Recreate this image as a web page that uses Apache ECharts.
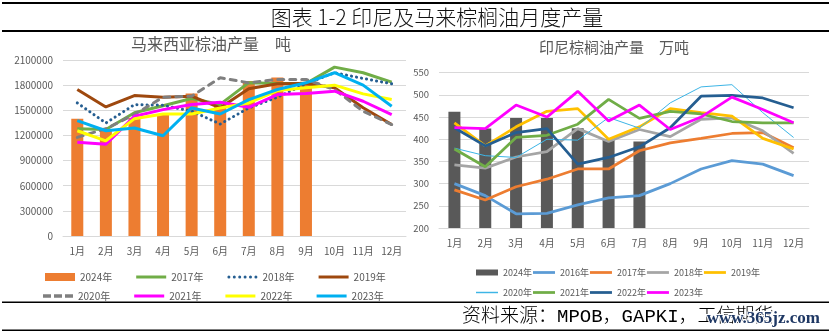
<!DOCTYPE html>
<html>
<head>
<meta charset="utf-8">
<script src="https://cdn.jsdelivr.net/npm/echarts@6/dist/echarts.min.js"></script>
<style>
  html, body { margin: 0; padding: 0; background: #fff; }
  #chart { width: 831px; height: 335px; }
</style>
</head>
<body>
<div id="chart"></div>
<script>
// Month categories shared by both panels
const months = ['1月', '2月', '3月', '4月', '5月', '6月', '7月', '8月', '9月', '10月', '11月', '12月'];

// Malaysia palm oil output, tonnes
const my2024 = [1400000, 1270000, 1410000, 1450000, 1700000, 1560000, 1850000, 1890000, 1840000];
const my2017 = [1280000, 1270000, 1470000, 1555000, 1640000, 1570000, 1830000, 1820000, 1820000, 2015000, 1948000, 1836000];
const my2018 = [1588000, 1348000, 1568000, 1560000, 1490000, 1336000, 1528000, 1656000, 1816000, 1948000, 1880000, 1816000];
const my2019 = [1748000, 1540000, 1676000, 1656000, 1668000, 1530000, 1758000, 1816000, 1820000, 1768000, 1530000, 1330000];
const my2020 = [1176000, 1280000, 1450000, 1656000, 1668000, 1888000, 1828000, 1868000, 1868000, 1748000, 1488000, 1330000];
const my2021 = [1120000, 1096000, 1428000, 1508000, 1568000, 1596000, 1536000, 1688000, 1700000, 1728000, 1608000, 1448000];
const my2022 = [1256000, 1136000, 1400000, 1456000, 1456000, 1528000, 1588000, 1736000, 1768000, 1800000, 1696000, 1628000];
const my2023 = [1376000, 1256000, 1288000, 1196000, 1528000, 1456000, 1628000, 1748000, 1828000, 1948000, 1800000, 1548000];

// Indonesia palm oil output, 10k tonnes
const id2024 = [462, 424, 448, 448, 425, 400, 395];
const id2016 = [300, 273, 232, 233, 252, 268, 273, 300, 333, 352, 344, 318];
const id2017 = [286, 263, 293, 310, 333, 333, 374, 392, 402, 413, 415, 381];
const id2018 = [342, 335, 360, 372, 424, 395, 422, 406, 445, 448, 419, 368];
const id2019 = [437, 385, 428, 463, 469, 400, 428, 469, 460, 452, 402, 378];
const id2020 = [380, 363, 359, 400, 398, 449, 425, 482, 518, 523, 460, 404];
const id2021 = [378, 338, 404, 409, 434, 490, 447, 463, 457, 440, 437, 437];
const id2022 = [426, 385, 415, 424, 344, 359, 383, 426, 497, 499, 493, 471];
const id2023 = [426, 424, 477, 450, 508, 441, 477, 422, 450, 495, 467, 437];

const AXIS_GREY = '#595959';
const GRID_GREY = '#D9D9D9';
const CJK = '"Noto Sans CJK SC", "Noto Sans", sans-serif';

// Legend glyphs
const SOLID_L = 'path://M0,0H30V3H0Z';
const DOTS_L = 'path://' + [0, 1, 2, 3, 4, 5].map(i => {
  const x = i * 5.4;
  return `M${x},1.5a1.5,1.5 0 1,0 3,0a1.5,1.5 0 1,0 -3,0Z`;
}).join(' ');
const DASH_L = 'path://M0,0h8v3.5h-8Z M11,0h8v3.5h-8Z M22,0h8v3.5h-8Z';
const SOLID_R = 'path://M0,0H24V3H0Z';
const THIN_R = 'path://M0,0H24V1.6H0Z';

function line(name, data, color, axis, width, dash) {
  return {
    name, type: 'line', data,
    xAxisIndex: axis, yAxisIndex: axis,
    symbol: 'none', smooth: false, z: 3,
    itemStyle: { color },
    lineStyle: Object.assign({ color, width }, dash ? { type: dash, cap: 'round' } : {})
  };
}

function bar(name, data, color, axis) {
  return {
    name, type: 'bar', data,
    xAxisIndex: axis, yAxisIndex: axis,
    barWidth: 12, z: 2,
    itemStyle: { color }
  };
}

const legendText = { color: AXIS_GREY, fontSize: 10, fontFamily: CJK };
const stripPrefix = n => n.replace(/^(MY|ID)/, '');

const chart = echarts.init(document.getElementById('chart'), null, { renderer: 'canvas' });

chart.setOption({
  animation: false,
  backgroundColor: '#fff',
  grid: [
    { left: 63, top: 60, width: 343, height: 176 },
    { left: 439, top: 72.7, width: 370, height: 155.3 }
  ],
  xAxis: [0, 1].map(i => ({
    type: 'category', gridIndex: i, data: months,
    axisLine: { lineStyle: { color: GRID_GREY } },
    axisTick: { show: false },
    axisLabel: { color: AXIS_GREY, fontSize: 10, fontFamily: CJK, margin: 10, interval: 0 }
  })),
  yAxis: [
    {
      type: 'value', gridIndex: 0, min: 0, max: 2100000, interval: 300000,
      axisLine: { show: false }, axisTick: { show: false },
      axisLabel: { color: AXIS_GREY, fontSize: 10, fontFamily: CJK, margin: 10, formatter: v => String(v) },
      splitLine: { lineStyle: { color: GRID_GREY, width: 1 } }
    },
    {
      type: 'value', gridIndex: 1, min: 200, max: 550, interval: 50,
      axisLine: { show: false }, axisTick: { show: false },
      axisLabel: { color: AXIS_GREY, fontSize: 9.5, fontFamily: CJK, margin: 10, formatter: v => String(v) },
      splitLine: { lineStyle: { color: GRID_GREY, width: 1 } }
    }
  ],
  legend: [
    {
      left: 40, top: 267, itemWidth: 30, itemHeight: 8, itemGap: 24,
      textStyle: legendText, formatter: stripPrefix, itemStyle: { borderWidth: 0 },
      selectedMode: false,
      data: [
        { name: 'MY2024年', icon: 'rect' },
        { name: 'MY2017年', icon: SOLID_L },
        { name: 'MY2018年', icon: DOTS_L },
        { name: 'MY2019年', icon: SOLID_L }
      ]
    },
    {
      left: 38, top: 286, itemWidth: 30, itemHeight: 8, itemGap: 24,
      textStyle: legendText, formatter: stripPrefix, itemStyle: { borderWidth: 0 },
      selectedMode: false,
      data: [
        { name: 'MY2020年', icon: DASH_L },
        { name: 'MY2021年', icon: SOLID_L },
        { name: 'MY2022年', icon: SOLID_L },
        { name: 'MY2023年', icon: SOLID_L }
      ]
    },
    {
      left: 471, top: 263, itemWidth: 22, itemHeight: 6, itemGap: 1,
      textStyle: Object.assign({}, legendText, { fontSize: 9 }), formatter: stripPrefix,
      itemStyle: { borderWidth: 0 }, selectedMode: false,
      data: [
        { name: 'ID2024年', icon: 'rect' },
        { name: 'ID2016年', icon: SOLID_R },
        { name: 'ID2017年', icon: SOLID_R },
        { name: 'ID2018年', icon: SOLID_R },
        { name: 'ID2019年', icon: SOLID_R }
      ]
    },
    {
      left: 471, top: 283, itemWidth: 22, itemHeight: 6, itemGap: 1,
      textStyle: Object.assign({}, legendText, { fontSize: 9 }), formatter: stripPrefix,
      itemStyle: { borderWidth: 0 }, selectedMode: false,
      data: [
        { name: 'ID2020年', icon: THIN_R },
        { name: 'ID2021年', icon: SOLID_R },
        { name: 'ID2022年', icon: SOLID_R },
        { name: 'ID2023年', icon: SOLID_R }
      ]
    }
  ],
  series: [
    bar('MY2024年', my2024, '#ED7D31', 0),
    line('MY2017年', my2017, '#70AD47', 0, 3),
    line('MY2018年', my2018, '#255E91', 0, 3, [0.1, 5]),
    line('MY2019年', my2019, '#9E480E', 0, 3),
    line('MY2020年', my2020, '#7F7F7F', 0, 3, [6, 6]),
    line('MY2021年', my2021, '#FF00FF', 0, 3),
    line('MY2022年', my2022, '#FFFF00', 0, 3),
    line('MY2023年', my2023, '#00B0F0', 0, 3),

    bar('ID2024年', id2024, '#595959', 1),
    line('ID2016年', id2016, '#5B9BD5', 1, 2.75),
    line('ID2017年', id2017, '#ED7D31', 1, 2.75),
    line('ID2018年', id2018, '#A5A5A5', 1, 2.75),
    line('ID2019年', id2019, '#FFC000', 1, 2.75),
    line('ID2020年', id2020, '#3DB5E6', 1, 1),
    line('ID2021年', id2021, '#70AD47', 1, 2.75),
    line('ID2022年', id2022, '#255E91', 1, 2.75),
    line('ID2023年', id2023, '#FF00FF', 1, 2.75)
  ],
  graphic: [
    // page rules
    { type: 'rect', shape: { x: 2, y: 2, width: 827, height: 2 }, style: { fill: '#000' }, silent: true },
    { type: 'rect', shape: { x: 2, y: 30, width: 827, height: 2 }, style: { fill: '#000' }, silent: true },
    { type: 'rect', shape: { x: 2, y: 301.5, width: 827, height: 1.6 }, style: { fill: '#000' }, silent: true },
    { type: 'rect', shape: { x: 2, y: 329.5, width: 827, height: 1.6 }, style: { fill: '#000' }, silent: true },
    // figure caption
    {
      type: 'text', x: 437, y: 17, silent: true,
      style: { text: '图表 1-2 印尼及马来棕榈油月度产量', fill: '#111', font: '300 21px ' + CJK, align: 'center', verticalAlign: 'middle' }
    },
    // panel headings
    {
      type: 'text', x: 211, y: 43.5, silent: true,
      style: { text: '马来西亚棕油产量　吨', fill: AXIS_GREY, font: '16px ' + CJK, align: 'center', verticalAlign: 'middle' }
    },
    {
      type: 'text', x: 614, y: 47, silent: true,
      style: { text: '印尼棕榈油产量　万吨', fill: AXIS_GREY, font: '15px ' + CJK, align: 'center', verticalAlign: 'middle' }
    },
    // source note
    {
      type: 'text', x: 462, y: 316.5, silent: true,
      style: { text: '资料来源：MPOB，GAPKI，工信期货', fill: '#000', font: '300 19px "Liberation Mono", ' + CJK, align: 'left', verticalAlign: 'middle' }
    },
    {
      type: 'text', x: 820, y: 319, silent: true,
      style: { text: 'www.365jz.com', fill: '#1F3864', font: 'bold 17px "Liberation Serif", serif', align: 'right', verticalAlign: 'middle', stroke: '#fff', lineWidth: 2 }
    }
  ]
});
</script>
</body>
</html>
